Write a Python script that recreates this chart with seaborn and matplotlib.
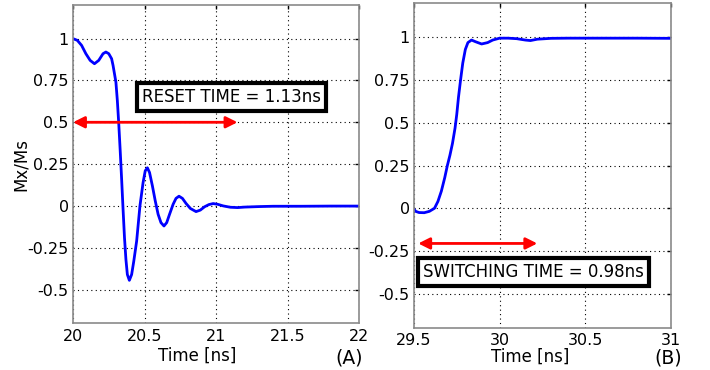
import numpy as np
import pandas as pd
import matplotlib
matplotlib.use("Agg")
import matplotlib.pyplot as plt
import seaborn as sns

# ---- data ----
reset_t = [20.00, 20.03, 20.06, 20.09, 20.12, 20.15, 20.18, 20.21, 20.23, 20.25,
           20.27, 20.28, 20.30, 20.31, 20.32, 20.33, 20.34, 20.35, 20.36, 20.37,
           20.38, 20.394, 20.41, 20.425, 20.445, 20.468, 20.49, 20.505, 20.52, 20.535,
           20.555, 20.575, 20.595, 20.615, 20.636, 20.655, 20.675, 20.70, 20.72, 20.741,
           20.765, 20.79, 20.82, 20.86, 20.89, 20.92, 20.95, 20.98, 21.01, 21.05,
           21.10, 21.15, 21.20, 21.30, 21.40, 21.60, 21.80, 22.00]
reset_m = [1.00, 0.99, 0.96, 0.91, 0.87, 0.85, 0.87, 0.91, 0.92, 0.91,
           0.88, 0.84, 0.74, 0.63, 0.49, 0.33, 0.16, -0.02, -0.19, -0.32,
           -0.41, -0.445, -0.41, -0.33, -0.21, 0.0, 0.14, 0.21, 0.228, 0.20,
           0.12, 0.03, -0.05, -0.10, -0.12, -0.10, -0.05, 0.01, 0.045, 0.058,
           0.045, 0.015, -0.015, -0.034, -0.025, -0.005, 0.008, 0.014, 0.010, 0.0,
           -0.008, -0.010, -0.007, -0.004, -0.002, -0.002, -0.001, -0.001]

switch_t = [29.50, 29.51, 29.53, 29.56, 29.59, 29.62, 29.64, 29.66, 29.68, 29.695,
            29.71, 29.725, 29.74, 29.75, 29.76, 29.772, 29.785, 29.80, 29.815, 29.836,
            29.86, 29.895, 29.93, 29.96, 30.00, 30.05, 30.10, 30.15, 30.18, 30.22,
            30.30, 30.40, 30.60, 30.80, 31.00]
switch_m = [-0.005, -0.018, -0.025, -0.026, -0.018, 0.0, 0.04, 0.10, 0.18, 0.25,
            0.31, 0.38, 0.47, 0.55, 0.65, 0.75, 0.85, 0.93, 0.97, 0.985,
            0.975, 0.962, 0.970, 0.985, 0.996, 0.996, 0.993, 0.985, 0.982, 0.990,
            0.995, 0.996, 0.996, 0.996, 0.995]

y_ticks = [-0.5, -0.25, 0, 0.25, 0.5, 0.75, 1]
y_ticklabels = ["-0.5", "-0.25", "0", "0.25", "0.5", "0.75", "1"]
xa_ticks = [20, 20.5, 21, 21.5, 22]
xa_ticklabels = ["20", "20.5", "21", "21.5", "22"]
xb_ticks = [29.5, 30, 30.5, 31]
xb_ticklabels = ["29.5", "30", "30.5", "31"]

reset_label = "RESET TIME = 1.13ns"
switch_label = "SWITCHING TIME = 0.98ns"

sns.set_style("white")
plt.rcParams['font.family'] = ['DejaVu Sans']
plt.rcParams['text.color'] = 'black'
plt.rcParams['axes.labelcolor'] = 'black'

fig = plt.figure(figsize=(7.1, 3.7), dpi=100)
axA = fig.add_axes([0.1028, 0.127, 0.403, 0.859])
axB = fig.add_axes([0.583, 0.114, 0.362, 0.877])

dfA = pd.DataFrame({"t": reset_t, "m": reset_m})
dfB = pd.DataFrame({"t": switch_t, "m": switch_m})

sns.lineplot(data=dfA, x="t", y="m", ax=axA, color="#0000ff", lw=2, sort=False)
sns.lineplot(data=dfB, x="t", y="m", ax=axB, color="#0000ff", lw=2, sort=False)

for ax, xt, xtl, xl in [(axA, xa_ticks, xa_ticklabels, (20, 22)),
                        (axB, xb_ticks, xb_ticklabels, (29.5, 31))]:
    ax.set_xlim(*xl)
    ax.set_ylim(-0.7, 1.2)
    ax.set_xticks(xt)
    ax.set_xticklabels(xtl)
    ax.set_yticks(y_ticks)
    ax.set_yticklabels(y_ticklabels)
    ax.grid(True, color="black", linestyle=(0, (1, 3)), linewidth=0.8)
    ax.tick_params(direction="in", length=3, width=1, top=True, right=True,
                   labelsize=11.5, colors="black", pad=4)
    ax.tick_params(axis="y", pad=3)
    for s in ax.spines.values():
        s.set_color("#8a8a8a")
        s.set_linewidth(1.2)
    ax.set_xlabel("Time [ns]", fontsize=12, labelpad=1)
    ax.set_ylabel("")

axA.xaxis.set_label_coords(0.434, -0.075)
axB.xaxis.set_label_coords(0.454, -0.062)
axA.set_ylabel("Mx/Ms", fontsize=12)
axA.yaxis.set_label_coords(-0.15, 0.5)

arrow = dict(arrowstyle="<|-|>", color="red", lw=2, mutation_scale=17, shrinkA=0, shrinkB=0)
axA.annotate("", xy=(20.0, 0.5), xytext=(21.15, 0.5), arrowprops=arrow)
axB.annotate("", xy=(29.525, -0.206), xytext=(30.22, -0.206), arrowprops=arrow)

box = dict(boxstyle="square,pad=0.3", facecolor="white", edgecolor="black", linewidth=3)
axA.text(21.11, 0.653, reset_label, fontsize=12, ha="center", va="center", bbox=box)
axB.text(30.2, -0.373, switch_label, fontsize=12, ha="center", va="center", bbox=box)

fig.text(349 / 710, 1 - 358 / 370, "(A)", fontsize=13.5, ha="center", va="center")
fig.text(668 / 710, 1 - 358 / 370, "(B)", fontsize=13.5, ha="center", va="center")

fig.savefig("out.png", dpi=100)
